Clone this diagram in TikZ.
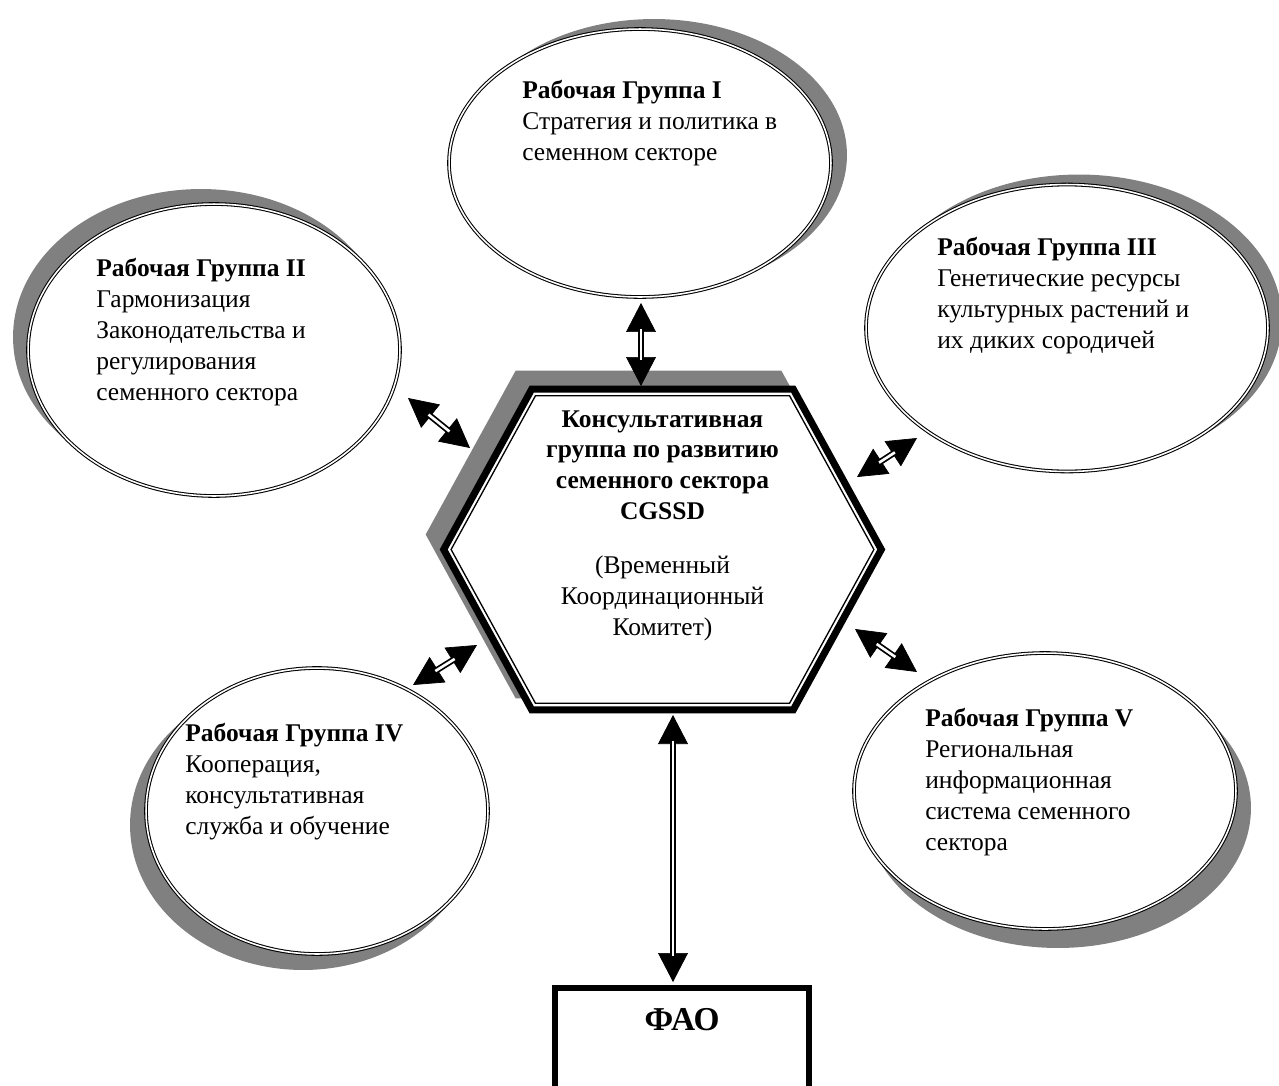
\documentclass[tikz,border=0pt]{standalone}
\usepackage{fontspec}
\setmainfont{Liberation Serif}
\usetikzlibrary{shapes.geometric,backgrounds,arrows.meta,calc,positioning}
\definecolor{shadowgray}{gray}{0.5}

\begin{document}
\begin{tikzpicture}[x=0.02cm,y=-0.02cm,font=\fontsize{14.5}{17.6}\selectfont,
    group node/.style={ellipse,draw,double,line width=0.6pt,double distance=0.9pt,fill=white,inner sep=0pt},
    group text/.style={anchor=north west,align=left,inner sep=0pt},
    hex box/.style={rectangle,inner sep=0pt,minimum width=8.74cm,minimum height=6.4cm},
    fao box/.style={rectangle,draw,line width=3.4pt,inner sep=0pt,minimum width=5.08cm,minimum height=2.64cm},
    link head/.style={line width=0.4pt,{Triangle[length=16.5pt,width=17pt]}-{Triangle[length=16.5pt,width=17pt]}},
    link shaft/.style={double=white,line width=1pt,double distance=1.5pt,shorten <=15pt,shorten >=15pt}]
  \useasboundingbox (0,0) rectangle (1279,1086);
  \clip (0,0) rectangle (1279,1086);

  % working groups
  \node[group node,minimum width=7.64cm,minimum height=5.36cm] (wg1) at (640,163) {};
  \node[group node,minimum width=7.44cm,minimum height=5.84cm] (wg2) at (214,350) {};
  \node[group node,minimum width=8.04cm,minimum height=5.74cm] (wg3) at (1067,328) {};
  \node[group node,minimum width=6.84cm,minimum height=5.72cm] (wg4) at (317,811) {};
  \node[group node,minimum width=7.64cm,minimum height=5.52cm] (wg5) at (1045,791) {};

  % shadows
  \begin{scope}[on background layer]
    \foreach \n/\dx/\dy/\rx/\ry in {wg1/14/-8/3.86/2.72,wg2/-13/-13/3.76/2.96,wg3/12/-8/4.06/2.91,
                                    wg4/-14/14/3.46/2.90,wg5/13/17/3.86/2.80}
      \fill[shadowgray] ($(\n)+(\dx,\dy)$) ellipse [x radius=\rx cm,y radius=\ry cm];
  \end{scope}

  \node[group text] (wg1text) at (522,80) {\textbf{Рабочая Группа I}\\Стратегия и политика в\\семенном секторе};
  \node[group text] (wg2text) at (96,258) {\textbf{Рабочая Группа II}\\Гармонизация\\Законодательства и\\регулирования\\семенного сектора};
  \node[group text] (wg3text) at (937,237) {\textbf{Рабочая Группа III}\\Генетические ресурсы\\культурных растений и\\их диких сородичей};
  \node[group text] (wg4text) at (185,723) {\textbf{Рабочая Группа IV}\\Кооперация,\\консультативная\\служба и обучение};
  \node[group text] (wg5text) at (925,708) {\textbf{Рабочая Группа V}\\Региональная\\информационная\\система семенного\\сектора};

  % coordination group
  \node[hex box] (hex) at (662.5,549.5) {};
  \fill[shadowgray,draw=shadowgray,line width=4pt,transform canvas={shift={(-14,-15)}}]
    (hex.west) -- ($(hex.north west)+(88,0)$) -- ($(hex.north east)+(-88,0)$) -- (hex.east)
    -- ($(hex.south east)+(-88,0)$) -- ($(hex.south west)+(88,0)$) -- cycle;
  \draw[line width=4pt,fill=white]
    (hex.west) -- ($(hex.north west)+(88,0)$) -- ($(hex.north east)+(-88,0)$) -- (hex.east)
    -- ($(hex.south east)+(-88,0)$) -- ($(hex.south west)+(88,0)$) -- cycle;
  \draw[line width=0.75pt]
    ($(hex.west)+(7.4,0)$) -- ($(hex.north west)+(91.8,6.5)$) -- ($(hex.north east)+(-91.8,6.5)$)
    -- ($(hex.east)+(-7.4,0)$) -- ($(hex.south east)+(-91.8,-6.5)$) -- ($(hex.south west)+(91.8,-6.5)$) -- cycle;
  \node[align=center,anchor=north,inner sep=0pt] (hextext) at (662.5,410)
    {\textbf{Консультативная}\\\textbf{группа по развитию}\\\textbf{семенного сектора}\\\textbf{CGSSD}\\[13pt]
     (Временный\\Координационный\\Комитет)};

  % FAO
  \node[fao box,label={[anchor=north,yshift=-10pt,font=\fontsize{19}{22}\selectfont\bfseries]north:ФАО}] (fao) at (682,1054) {};

  % link ends
  \coordinate (l1a) at (641,303);  \coordinate (l1b) at (641,386);
  \coordinate (l2a) at (408,398);  \coordinate (l2b) at (470,448);
  \coordinate (l3a) at (917,438);  \coordinate (l3b) at (857,477);
  \coordinate (l4a) at (413,685);  \coordinate (l4b) at (477,645);
  \coordinate (l5a) at (855,629);  \coordinate (l5b) at (917,672);
  \coordinate (l6a) at (673,715);  \coordinate (l6b) at (673,982);

  \foreach \s/\e in {l1a/l1b,l2a/l2b,l3a/l3b,l4a/l4b,l5a/l5b,l6a/l6b}{
    \draw[link head] (\s) -- (\e);
    \draw[link shaft] (\s) -- (\e);
  }
\end{tikzpicture}
\end{document}
